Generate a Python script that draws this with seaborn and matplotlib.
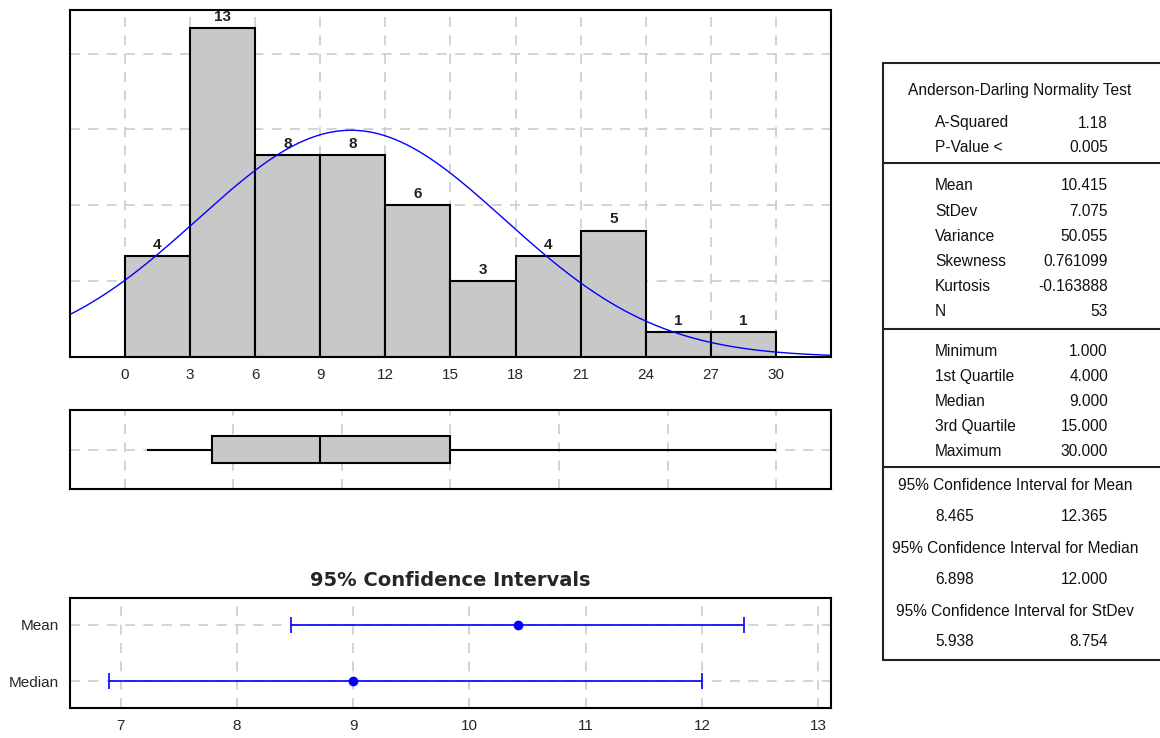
import numpy as np
import pandas as pd
import matplotlib
matplotlib.use("Agg")
import matplotlib.pyplot as plt
import seaborn as sns

# histogram classes (width 3) and frequencies
bin_edges = [0, 3, 6, 9, 12, 15, 18, 21, 24, 27, 30]
counts = [4, 13, 8, 8, 6, 3, 4, 5, 1, 1]

# descriptive statistics
mean_val = 10.415
stdev_val = 7.075
n_obs = 53
five_num = [1.0, 4.0, 9.0, 15.0, 30.0]   # min, Q1, median, Q3, max

# 95% confidence intervals
ci_names = ["Mean", "Median"]
ci_center = [10.415, 9.0]
ci_lower = [8.465, 6.898]
ci_upper = [12.365, 12.000]

# summary table text
ad_title = "Anderson-Darling Normality Test"
ad_labels = ["A-Squared", "P-Value <"]
ad_values = ["1.18", "0.005"]
moment_labels = ["Mean", "StDev", "Variance", "Skewness", "Kurtosis", "N"]
moment_values = ["10.415", "7.075", "50.055", "0.761099", "-0.163888", "53"]
quant_labels = ["Minimum", "1st Quartile", "Median", "3rd Quartile", "Maximum"]
quant_values = ["1.000", "4.000", "9.000", "15.000", "30.000"]
ci_titles = ["95% Confidence Interval for Mean",
             "95% Confidence Interval for Median",
             "95% Confidence Interval for StDev"]
ci_low_txt = ["8.465", "6.898", "5.938"]
ci_high_txt = ["12.365", "12.000", "8.754"]

sns.set_style("white")
plt.rcParams["font.family"] = ["Liberation Sans", "DejaVu Sans"]

W, H = 1160, 738
GRAY = "#c8c8c8"
GRID = dict(color="#cccccc", linestyle=(0, (6, 5)), linewidth=1.2)

fig = plt.figure(figsize=(W / 100, H / 100), dpi=100)


def px_axes(left, top, right, bottom):
    return fig.add_axes([left / W, 1 - bottom / H, (right - left) / W, (bottom - top) / H])


def frame(ax):
    for s in ax.spines.values():
        s.set_visible(True)
        s.set_color("black")
        s.set_linewidth(1.5)
        s.set_zorder(5)


# ---- histogram with fitted normal curve
ax_h = px_axes(70, 10, 831, 357)
mids = [(a + b) / 2 for a, b in zip(bin_edges[:-1], bin_edges[1:])]
hist_df = pd.DataFrame({"mid": mids, "count": counts})
sns.histplot(data=hist_df, x="mid", weights="count", bins=bin_edges, color=GRAY,
             edgecolor="black", linewidth=1.5, alpha=1, ax=ax_h, zorder=2)
ax_h.bar_label(ax_h.containers[0], labels=[str(c) for c in counts], padding=3,
               fontsize=11, fontweight="bold", color="#222222")

xs = np.linspace(-2.6, 32.6, 400)
width = bin_edges[1] - bin_edges[0]
ys = n_obs * width * np.exp(-0.5 * ((xs - mean_val) / stdev_val) ** 2) / (stdev_val * np.sqrt(2 * np.pi))
ax_h.plot(xs, ys, color="#0000ff", linewidth=1.0, zorder=3)

ax_h.set_xlim(-2.53, 32.53)
ax_h.set_ylim(0, 13.72)
ax_h.set_xticks(bin_edges)
ax_h.set_yticks([3, 6, 9, 12])
ax_h.set_yticklabels([])
ax_h.set_xlabel("")
ax_h.set_ylabel("")
ax_h.set_axisbelow(True)
ax_h.grid(True, **GRID)
ax_h.tick_params(axis="x", length=4, width=1, pad=4, labelsize=11, color="black")
ax_h.tick_params(axis="y", length=0)
frame(ax_h)

# ---- boxplot
ax_b = px_axes(70, 410, 831, 489)
sns.boxplot(x=five_num, whis=(0, 100), width=0.34, color=GRAY, saturation=1,
            linecolor="black", linewidth=1.5, showcaps=False, ax=ax_b)
ax_b.set_xlim(-2.53, 32.53)
ax_b.set_ylim(0.5, -0.5)
ax_b.set_xticks(range(0, 31, 5))
ax_b.set_yticks([0])
ax_b.set_xticklabels([])
ax_b.set_yticklabels([])
ax_b.set_axisbelow(True)
ax_b.grid(True, **GRID)
ax_b.tick_params(length=0)
frame(ax_b)

# ---- confidence intervals
ax_c = px_axes(70, 598, 831, 708)
ypos = list(range(len(ci_names)))
xerr = [np.subtract(ci_center, ci_lower), np.subtract(ci_upper, ci_center)]
ax_c.errorbar(ci_center, ypos, xerr=xerr, fmt="o", color="#0000ff", ms=6,
              capsize=6, elinewidth=1.2, capthick=1.2, zorder=3)
ax_c.set_xlim(6.565, 13.11)
ax_c.set_ylim(1.47, -0.47)
ax_c.set_xticks(range(7, 14))
ax_c.set_yticks(ypos)
ax_c.set_yticklabels(ci_names)
ax_c.set_axisbelow(True)
ax_c.grid(True, **GRID)
ax_c.tick_params(axis="both", length=4, width=1, pad=4, labelsize=11, color="black")
ax_c.set_title("95% Confidence Intervals", fontsize=14, fontweight="bold",
               family="DejaVu Sans", pad=9)
frame(ax_c)

# ---- summary table on the right
ax_t = fig.add_axes([0, 0, 1, 1], zorder=-1)
ax_t.set_xlim(0, W)
ax_t.set_ylim(H, 0)
ax_t.axis("off")
lc = "#222222"
ax_t.plot([883, 883], [63, 660], color=lc, lw=1.5)
for yy in [63, 163, 329, 467, 660]:
    ax_t.plot([883, W + 5], [yy, yy], color=lc, lw=1.5)

fs = 11.2
tc = "#111111"
lx, vx, cx = 935, 1108, 1020
ax_t.text(cx, 91, ad_title, ha="center", va="center", fontsize=fs, color=tc)
row = 25.2
for i, (lab, val) in enumerate(zip(ad_labels, ad_values)):
    y = 123 + i * (147 - 123)
    ax_t.text(lx, y, lab, ha="left", va="center", fontsize=fs, color=tc)
    ax_t.text(vx, y, val, ha="right", va="center", fontsize=fs, color=tc)
for i, (lab, val) in enumerate(zip(moment_labels, moment_values)):
    y = 186 + i * row
    ax_t.text(lx, y, lab, ha="left", va="center", fontsize=fs, color=tc)
    ax_t.text(vx, y, val, ha="right", va="center", fontsize=fs, color=tc)
for i, (lab, val) in enumerate(zip(quant_labels, quant_values)):
    y = 351 + i * row
    ax_t.text(lx, y, lab, ha="left", va="center", fontsize=fs, color=tc)
    ax_t.text(vx, y, val, ha="right", va="center", fontsize=fs, color=tc)
for i, (ttl, lo, hi) in enumerate(zip(ci_titles, ci_low_txt, ci_high_txt)):
    y = 486 + i * 62.5
    ax_t.text(1015, y, ttl, ha="center", va="center", fontsize=fs, color=tc)
    ax_t.text(lx, y + 30.5, lo, ha="left", va="center", fontsize=fs, color=tc)
    ax_t.text(vx, y + 30.5, hi, ha="right", va="center", fontsize=fs, color=tc)

fig.savefig("out.png", dpi=100)
